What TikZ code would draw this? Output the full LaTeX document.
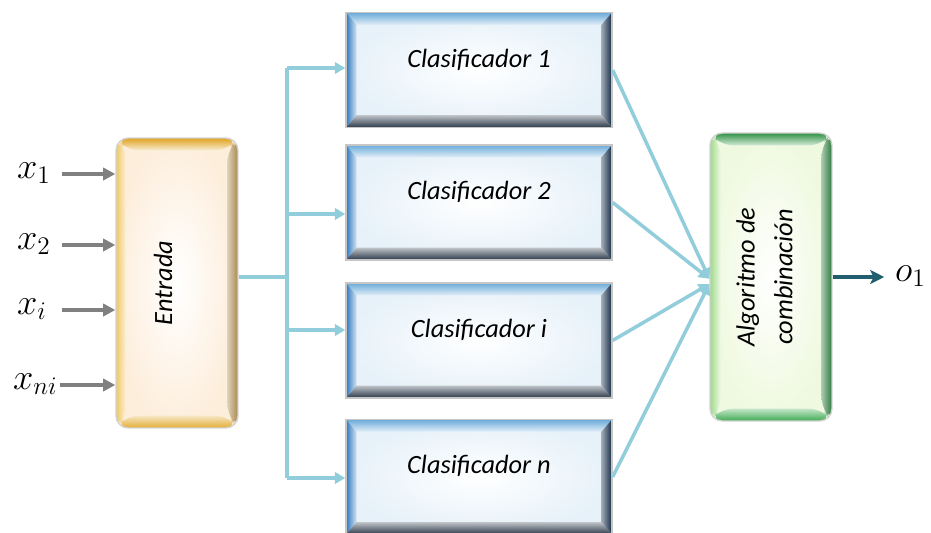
\documentclass[tikz,border=0pt]{standalone}
\usepackage{fontspec}
\setmainfont{Carlito}
\usetikzlibrary{arrows.meta,positioning}
\definecolor{lineblue}{HTML}{92CDDC}
\definecolor{ingrey}{HTML}{808080}
\definecolor{outteal}{HTML}{215E70}
\definecolor{bltop}{HTML}{6AAAD9}
\definecolor{blleft}{HTML}{2E78BE}
\definecolor{blright}{HTML}{132B45}
\definecolor{blbot}{HTML}{2A3848}
\definecolor{blmid}{HTML}{E6F1F9}
\definecolor{gdtop}{HTML}{DFA21F}
\definecolor{gdleft}{HTML}{F0C860}
\definecolor{gdright}{HTML}{A9894E}
\definecolor{gdbot}{HTML}{E4AC33}
\definecolor{gdmid}{HTML}{FDEEDC}
\definecolor{grtop}{HTML}{2F9245}
\definecolor{grleft}{HTML}{9FDB86}
\definecolor{grright}{HTML}{2C7A3C}
\definecolor{grbot}{HTML}{3DAA50}
\definecolor{grmid}{HTML}{EFF9DF}

\tikzset{
  bevel/.style n args={5}{path picture={
    \coordinate (bnw) at (path picture bounding box.north west);
    \coordinate (bne) at (path picture bounding box.north east);
    \coordinate (bsw) at (path picture bounding box.south west);
    \coordinate (bse) at (path picture bounding box.south east);
    \coordinate (inw) at ([shift={(6pt,-7pt)}]bnw);
    \coordinate (ine) at ([shift={(-6pt,-7pt)}]bne);
    \coordinate (isw) at ([shift={(6pt,7pt)}]bsw);
    \coordinate (ise) at ([shift={(-6pt,7pt)}]bse);
    \shade[inner color=white, outer color=#5] (bnw) rectangle (bse);
    \shade[top color=#1, bottom color=#1!20!white] (bnw) -- (bne) -- (ine) -- (inw) -- cycle;
    \shade[left color=#2, right color=#2!20!white] (bnw) -- (inw) -- (isw) -- (bsw) -- cycle;
    \shade[right color=#3, left color=#3!40!white] (bne) -- (ine) -- (ise) -- (bse) -- cycle;
    \shade[bottom color=#4, top color=#4!30!white] (bsw) -- (isw) -- (ise) -- (bse) -- cycle;
  }},
  boxfont/.style={font=\fontsize{15}{18}\selectfont\itshape},
  clasif/.style={boxfont, draw=gray!45, line width=0.8pt, inner sep=0pt,
    minimum width=5.32cm, minimum height=2.3cm, text height=0.4cm, text depth=0.52cm,
    bevel={bltop}{blleft}{blright}{blbot}{blmid}},
  entradabox/.style={boxfont, draw=gray!35, line width=0.8pt, rounded corners=7pt, inner sep=0pt,
    minimum width=2.44cm, minimum height=5.8cm,
    bevel={gdtop}{gdleft}{gdright}{gdbot}{gdmid}},
  combbox/.style={boxfont, draw=gray!35, line width=0.8pt, rounded corners=7pt, inner sep=0pt,
    minimum width=2.44cm, minimum height=5.76cm,
    bevel={grtop}{grleft}{grright}{grbot}{grmid}},
  xlabel/.style={font=\fontsize{20}{22}\selectfont, anchor=mid west, inner sep=1pt},
}

\begin{document}
\begin{tikzpicture}[x=0.02cm, y=-0.02cm, on grid,
  conn/.style={draw=lineblue, line width=2pt},
  tip/.style={-{Triangle[length=6pt,width=6.5pt]}},
  inarr/.style={draw=ingrey, line width=2pt, -{Triangle[length=7pt,width=7pt]}},
  outarr/.style={draw=outteal, line width=2.4pt, -{Stealth[length=8pt,width=8pt,inset=2pt]}}]
\useasboundingbox (0,0) rectangle (931,532);

\node[entradabox] (entrada) at (177,283) {\rotatebox{90}{Entrada}\kern0.56cm};
\node[clasif] (c1) at (479,70) {Clasificador 1};
\node[clasif] (c2) [below=2.65cm of c1] {Clasificador 2};
\node[clasif] (c3) [below=2.76cm of c2] {Clasificador i};
\node[clasif] (c4) [below=2.73cm of c3] {Clasificador n};
\node[combbox] (comb) at (771,277) {\rotatebox{90}{\begin{tabular}{@{}c@{}}Algoritmo de\\[3.5pt]combinación\end{tabular}}\kern0.15cm};

\node[xlabel] (x1) at (15,174) {$x_1$};
\node[xlabel] (x2) at (15,245) {$x_2$};
\node[xlabel] (xi) at (15,310) {$x_i$};
\node[xlabel] (xn) at (11,385) {$x_{ni}$};
\node[xlabel] (o1) at (893,277) {$o_1$};

\coordinate (instart) at (62,0);
\coordinate (split) at (287,277);
\coordinate (t1) at (287,68);
\coordinate (t2) at (287,214);
\coordinate (t3) at (287,330);
\coordinate (t4) at (287,478);

\foreach \n in {x1,x2,xi}
  \draw[inarr] (\n.mid west -| instart) -- (\n.mid west -| entrada.west);
\draw[inarr] (xn.mid east) -- (xn.mid east -| entrada.west);

\draw[conn] (entrada.east |- split) -- (split);
\draw[conn] (t1) -- (t4);
\foreach \i in {1,2,3,4}
  \draw[conn, tip] (t\i) -- (t\i -| c\i.west);

\draw[conn, tip] (c1.east) -- ([yshift=-1pt]comb.west);
\draw[conn, tip] (c2.east) -- ([yshift=-1pt]comb.west);
\draw[conn, tip] (c3.east) -- ([yshift=-4pt]comb.west);
\draw[conn, tip] (c4.east) -- ([yshift=-4pt]comb.west);

\draw[outarr, shorten >=5pt] (comb.east |- o1.mid west) -- (o1.mid west);
\end{tikzpicture}
\end{document}
